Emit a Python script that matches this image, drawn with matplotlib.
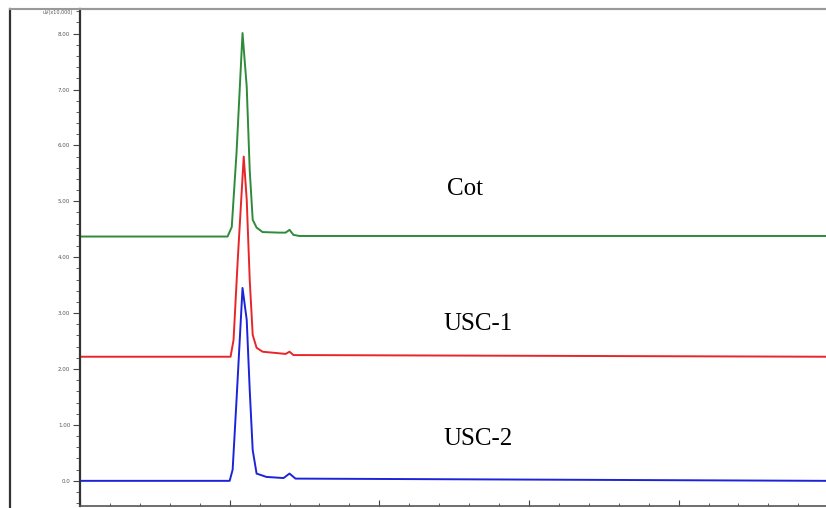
import matplotlib
matplotlib.use("Agg")
import matplotlib.pyplot as plt
from matplotlib.ticker import MultipleLocator, FixedLocator
import matplotlib.lines as mlines

# ---- data (time in min, signal in uV x10,000) ----
cot_t = [0.0, 4.93, 5.07, 5.23, 5.43, 5.57, 5.67, 5.77, 5.90, 6.10, 6.67, 6.87, 7.00, 7.13, 7.33, 24.9]
cot_y = [4.37, 4.37, 4.54, 5.87, 8.01, 7.05, 5.56, 4.67, 4.53, 4.45, 4.44, 4.44, 4.49, 4.40, 4.38, 4.38]

usc1_t = [0.0, 5.03, 5.13, 5.27, 5.47, 5.57, 5.67, 5.77, 5.90, 6.10, 6.87, 7.00, 7.13, 24.9]
usc1_y = [2.22, 2.22, 2.52, 3.95, 5.80, 5.03, 3.60, 2.61, 2.38, 2.31, 2.27, 2.31, 2.25, 2.22]

usc2_t = [0.0, 5.00, 5.10, 5.23, 5.43, 5.57, 5.67, 5.77, 5.90, 6.23, 6.80, 7.00, 7.20, 24.9]
usc2_y = [0.00, 0.00, 0.20, 1.45, 3.45, 2.88, 1.63, 0.55, 0.13, 0.07, 0.05, 0.13, 0.04, 0.00]

series_names = ["Cot", "USC-1", "USC-2"]
series_colors = ["#2e8b3a", "#e8262a", "#1c23d8"]
label_pos = [(12.25, 5.22), (12.15, 2.80), (12.15, 0.74)]

ytick_vals = [0, 1, 2, 3, 4, 5, 6, 7, 8]
ytick_labels = ["0.0", "1.00", "2.00", "3.00", "4.00", "5.00", "6.00", "7.00", "8.00"]

W, H = 826, 508
fig = plt.figure(figsize=(W / 100, H / 100), dpi=100, facecolor="white")

ax = fig.add_axes([80 / W, 2 / H, (W - 80) / W + 0.01, (506 - 9) / H])
ax.set_facecolor("white")

for t, y, c in zip([cot_t, usc1_t, usc2_t], [cot_y, usc1_y, usc2_y], series_colors):
    ax.plot(t, y, color=c, lw=1.4, solid_joinstyle="round")

for name, (tx, ty) in zip(series_names, label_pos):
    ax.text(tx, ty, name, fontsize=18, family="Liberation Serif", color="black",
            ha="left", va="center")

ax.set_xlim(0, 25.2)
ax.set_ylim(-0.45, 8.44)

ax.yaxis.set_major_locator(FixedLocator(ytick_vals))
ax.set_yticklabels(ytick_labels)
ax.yaxis.set_minor_locator(MultipleLocator(0.2))
ax.tick_params(axis="y", which="major", direction="out", length=5, width=0.8,
               labelsize=4, labelcolor="#555555", color="#444444", pad=2)
ax.tick_params(axis="y", which="minor", direction="out", length=3, width=0.6, color="#444444")

ax.xaxis.set_major_locator(MultipleLocator(5))
ax.xaxis.set_minor_locator(MultipleLocator(1))
ax.tick_params(axis="x", which="major", direction="in", length=4, width=0.8,
               labelbottom=False, color="#444444")
ax.tick_params(axis="x", which="minor", direction="in", length=2.5, width=0.6, color="#444444")

ax.spines["right"].set_visible(False)
ax.spines["top"].set_color("#999999")
ax.spines["top"].set_linewidth(1.5)
ax.spines["left"].set_color("#333333")
ax.spines["left"].set_linewidth(1.6)
ax.spines["bottom"].set_color("#555555")
ax.spines["bottom"].set_linewidth(1.2)

# top unit label
ax.text(-0.25, 8.38, "uV(x10,000)", fontsize=3.5, color="#555555", ha="right", va="center")

# outer frame line on the left and along the top
fig.add_artist(mlines.Line2D([10 / W, 10 / W], [0, 1 - 9 / H], color="#333333", lw=1.6))
fig.add_artist(mlines.Line2D([10 / W, 1], [1 - 9 / H, 1 - 9 / H], color="#999999", lw=1.5))

fig.savefig("out.png", dpi=100, facecolor="white")
